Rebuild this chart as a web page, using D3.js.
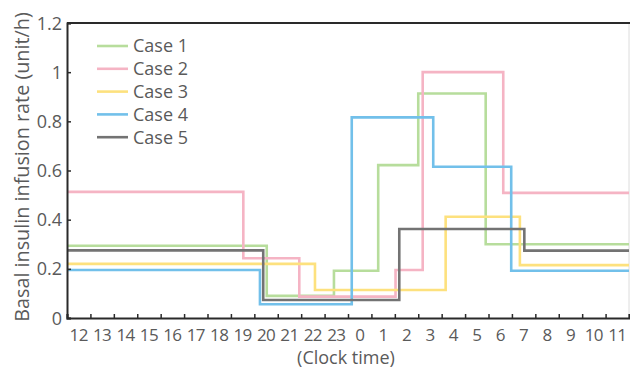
<!DOCTYPE html>
<html>
<head>
<meta charset="utf-8">
<script src="https://cdn.jsdelivr.net/npm/d3@7"></script>
<style>
  html, body { margin: 0; padding: 0; background: #fff; }
  svg { display: block; font-family: "Open Sans", "Noto Sans", sans-serif; }
</style>
</head>
<body>
<svg id="chart" width="630" height="369"></svg>
<script>
// ---- Data ----
const caseNames = ["Case 1", "Case 2", "Case 3", "Case 4", "Case 5"];
const caseColors = ["#b7dd9c", "#f5b4c4", "#fde17e", "#72c0ea", "#737373"];
// times are clock hours, values past 24 are the next day
const case1Times = [12, 20.53, 23.4, 25.29, 27.0, 29.88];
const case1Values = [0.294, 0.09, 0.192, 0.622, 0.913, 0.30];
const case2Times = [12, 19.53, 21.92, 26.03, 27.19, 30.63];
const case2Values = [0.513, 0.243, 0.087, 0.195, 1.0, 0.509];
const case3Times = [12, 22.59, 28.17, 31.34];
const case3Values = [0.22, 0.114, 0.412, 0.215];
const case4Times = [12, 20.24, 24.16, 27.64, 30.97];
const case4Values = [0.195, 0.056, 0.816, 0.615, 0.192];
const case5Times = [12, 20.38, 26.19, 31.53];
const case5Values = [0.275, 0.073, 0.362, 0.274];
const hourLabels = [12, 13, 14, 15, 16, 17, 18, 19, 20, 21, 22, 23, 0, 1, 2, 3, 4, 5, 6, 7, 8, 9, 10, 11];
const yTicks = [0, 0.2, 0.4, 0.6, 0.8, 1, 1.2];
const startHour = 12, endHour = 36;

const allTimes = [case1Times, case2Times, case3Times, case4Times, case5Times];
const allValues = [case1Values, case2Values, case3Values, case4Values, case5Values];

// ---- Layout ----
const svg = d3.select("#chart");
const pLeft = 67, pRight = 629, pTop = 23, pBottom = 318;
const textColor = "#5a5a5a";

const x = d3.scaleLinear().domain([startHour, endHour]).range([pLeft, pRight]);
const y = d3.scaleLinear().domain([0, 1.2]).range([pBottom, pTop]);

// right frame (light)
svg.append("line").attr("x1", pRight).attr("x2", pRight).attr("y1", pTop).attr("y2", pBottom)
  .attr("stroke", "#dcdcdc").attr("stroke-width", 1);

// series
const line = d3.line().x(d => x(d[0])).y(d => y(d[1])).curve(d3.curveStepAfter);
allTimes.forEach((times, i) => {
  const vals = allValues[i];
  const pts = times.map((t, j) => [t, vals[j]]);
  pts.push([endHour, vals[vals.length - 1]]);
  svg.append("path").datum(pts)
    .attr("d", line)
    .attr("fill", "none")
    .attr("stroke", caseColors[i])
    .attr("stroke-width", 2.6)
    .attr("stroke-linejoin", "miter");
});

// top frame
svg.append("line").attr("x1", pLeft).attr("x2", pRight + 1).attr("y1", pTop).attr("y2", pTop)
  .attr("stroke", "#2a2a2a").attr("stroke-width", 2);

// y axis
const yAxis = d3.axisLeft(y).tickValues(yTicks).tickSize(-4).tickPadding(5)
  .tickFormat(d => String(+d.toFixed(1)));
const gy = svg.append("g").attr("transform", `translate(${pLeft},0)`).call(yAxis);
gy.select(".domain").attr("stroke", "#2a2a2a").attr("stroke-width", 2);
gy.selectAll(".tick line").attr("stroke", "#2a2a2a").attr("stroke-width", 1.5);
gy.selectAll(".tick text").attr("fill", textColor).attr("font-size", 18)
  .attr("font-family", "'Open Sans', sans-serif").attr("dy", "0.34em");

// x axis (ticks at hour boundaries)
const xAxis = d3.axisBottom(x).tickValues(d3.range(startHour, endHour + 1)).tickSize(-4).tickFormat("");
const gx = svg.append("g").attr("transform", `translate(0,${pBottom})`).call(xAxis);
gx.select(".domain").attr("stroke", "#2a2a2a").attr("stroke-width", 2);
gx.selectAll(".tick line").attr("stroke", "#2a2a2a").attr("stroke-width", 1.5);

// x labels centred on each hour interval
svg.append("g").selectAll("text").data(hourLabels).join("text")
  .attr("x", (d, i) => x(startHour + i + 0.5))
  .attr("y", 341)
  .attr("text-anchor", "middle")
  .attr("font-size", 17)
  .attr("letter-spacing", -0.6)
  .attr("fill", textColor)
  .text(d => d);

// axis titles
svg.append("text")
  .attr("x", 346).attr("y", 364)
  .attr("text-anchor", "middle")
  .attr("font-size", 18).attr("fill", textColor)
  .text("(Clock time)");

svg.append("text")
  .attr("transform", `translate(29,167) rotate(-90)`)
  .attr("text-anchor", "middle")
  .attr("font-size", 19.8).attr("fill", textColor)
  .text("Basal insulin infusion rate (unit/h)");

// legend
const legend = svg.append("g");
caseNames.forEach((name, i) => {
  const ly = 46 + i * 22.8;
  legend.append("line").attr("x1", 97).attr("x2", 128).attr("y1", ly).attr("y2", ly)
    .attr("stroke", caseColors[i]).attr("stroke-width", 2.6);
  legend.append("text").attr("x", 133).attr("y", ly).attr("dy", "0.35em")
    .attr("font-size", 18).attr("fill", textColor).text(name);
});
</script>
</body>
</html>
